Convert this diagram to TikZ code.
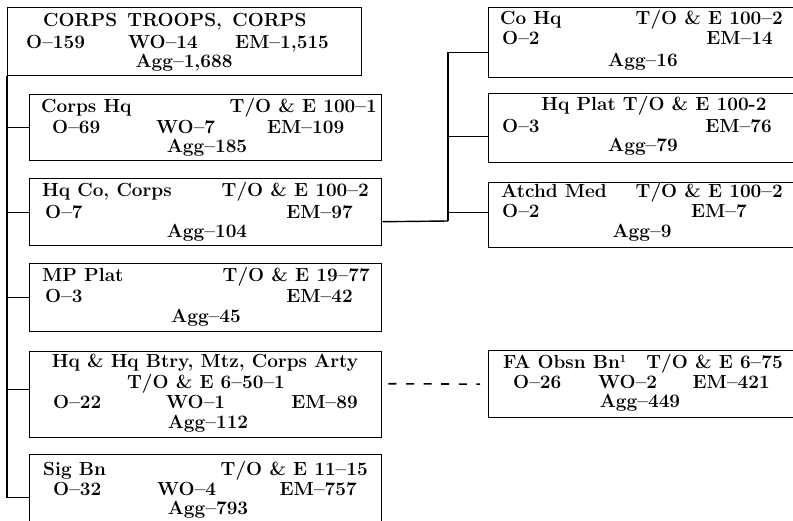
\documentclass[tikz,border=0pt]{standalone}
\usepackage{fontspec}
\begin{document}
\begin{tikzpicture}[x=1pt,y=-1pt,
  box/.style={draw, line width=1.4pt, inner sep=0pt, anchor=north west},
  txt/.style={inner sep=0pt, font=\bfseries\fontsize{19}{21}\selectfont},
  tw/.style={txt, anchor=base west},
  te/.style={txt, anchor=base east},
  tc/.style={txt, anchor=base},
  link/.style={line width=1.4pt},
  dashline/.style={line width=1.6pt, dash pattern=on 8pt off 9.6pt}]
\clip (0,0) rectangle (793,520);
\fill[white] (0,0) rectangle (793,520);
% boxes
\node[box, minimum width=354pt, minimum height=68pt] (top) at (7,7) {};
\node[box, minimum width=352pt, minimum height=66pt] (b1) at (29,94) {};
\node[box, minimum width=352pt, minimum height=67pt] (b2) at (29,178) {};
\node[box, minimum width=352pt, minimum height=68pt] (b3) at (29,263) {};
\node[box, minimum width=352pt, minimum height=86pt] (b4) at (29,351) {};
\node[box, minimum width=352pt, minimum height=106pt] (b5) at (29,454) {};
\node[box, minimum width=320pt, minimum height=70pt] (r1) at (488,7) {};
\node[box, minimum width=320pt, minimum height=69pt] (r2) at (488,93) {};
\node[box, minimum width=320pt, minimum height=65pt] (r3) at (488,182) {};
\node[box, minimum width=320pt, minimum height=67pt] (r4) at (488,350) {};
% connectors
\draw[link] (top.south west) |- (b1.west);
\draw[link] (top.south west) |- (b2.west);
\draw[link] (top.south west) |- (b3.west);
\draw[link] (top.south west) |- ([yshift=5pt]b4.west);
\draw[link] (top.south west) |- ([yshift=10pt]b5.west);
\coordinate (jr) at (448,221);
\draw[link] ([yshift=-9.5pt]b2.east) -- (jr);
\draw[link] (jr) |- ([yshift=-10pt]r1.west);
\draw[link] (jr) |- ([yshift=-8.5pt]r2.west);
\draw[link] (jr) |- ([yshift=2.5pt]r3.west);
\draw[dashline, shorten <=6pt, shorten >=8pt] ([yshift=11pt]b4.east) -- (r4.west);
% top box text
\node[tw] (t1) at (43,26) {CORPS\, TROOPS,\, CORPS};
\node[tw] (t2) at (26,48) {O--159};
\node[tw] (t3) at (128,48) {WO--14};
\node[tw] (t4) at (235,48) {EM--1,515};
\node[tc] (t5) at (184,67) {Agg--1,688};
% Corps Hq
\node[tw] (a1) at (41,112) {Corps Hq};
\node[te] (a2) at (377,112) {T/O \& E 100--1};
\node[tw] (a3) at (52,133) {O--69};
\node[tw] (a4) at (156,133) {WO--7};
\node[tw] (a5) at (267,133) {EM--109};
\node[tc] (a6) at (207,152) {Agg--185};
% Hq Co
\node[tw] (c1) at (42,196) {Hq Co, Corps};
\node[te] (c2) at (369,196) {T/O \& E 100--2};
\node[tw] (c3) at (45,218) {O--7};
\node[te] (c4) at (353,218) {EM--97};
\node[tc] (c5) at (207,237) {Agg--104};
% MP Plat
\node[tw] (m1) at (42,281) {MP Plat};
\node[te] (m2) at (370,281) {T/O \& E 19--77};
\node[tw] (m3) at (45,302) {O--3};
\node[te] (m4) at (353,302) {EM--42};
\node[tc] (m5) at (206,322) {Agg--45};
% Hq & Hq Btry
\node[tc] (h1) at (205,367) {Hq \& Hq Btry, Mtz, Corps Arty};
\node[tc] (h2) at (206,388) {T/O \& E 6--50--1};
\node[tw] (h3) at (53,408) {O--22};
\node[tw] (h4) at (166,408) {WO--1};
\node[te] (h5) at (358,408) {EM--89};
\node[tc] (h6) at (208,428) {Agg--112};
% Sig Bn
\node[tw] (s1) at (43,475) {Sig Bn};
\node[te] (s2) at (368,475) {T/O \& E 11--15};
\node[tw] (s3) at (53,495) {O--32};
\node[tw] (s4) at (157,495) {WO--4};
\node[te] (s5) at (357,495) {EM--757};
\node[tc] (s6) at (208,514) {Agg--793};
% Co Hq
\node[tw] (k1) at (500,24) {Co Hq};
\node[te] (k2) at (783,24) {T/O \& E 100--2};
\node[tw] (k3) at (502,44) {O--2};
\node[te] (k4) at (773,44) {EM--14};
\node[tc] (k5) at (643,66) {Agg--16};
% Hq Plat
\node[tc] (p1) at (654,110) {Hq Plat T/O \& E 100-2};
\node[tw] (p2) at (502,132) {O--3};
\node[te] (p3) at (772,132) {EM--76};
\node[tc] (p4) at (643,151) {Agg--79};
% Atchd Med
\node[tw] (d1) at (501,197) {Atchd Med};
\node[te] (d2) at (783,197) {T/O \& E 100--2};
\node[tw] (d3) at (502,217) {O--2};
\node[te] (d4) at (747,217) {EM--7};
\node[tc] (d5) at (642,237) {Agg--9};
% FA Obsn Bn
\node[tw] (f1) at (503,368) {FA Obsn Bn{\fontsize{11}{11}\selectfont\raisebox{6pt}{1}}};
\node[te] (f2) at (783,368) {T/O \& E 6--75};
\node[tw] (f3) at (513,388) {O--26};
\node[tw] (f4) at (598,388) {WO--2};
\node[te] (f5) at (770,388) {EM--421};
\node[tc] (f6) at (640,407) {Agg--449};
\end{tikzpicture}
\end{document}
